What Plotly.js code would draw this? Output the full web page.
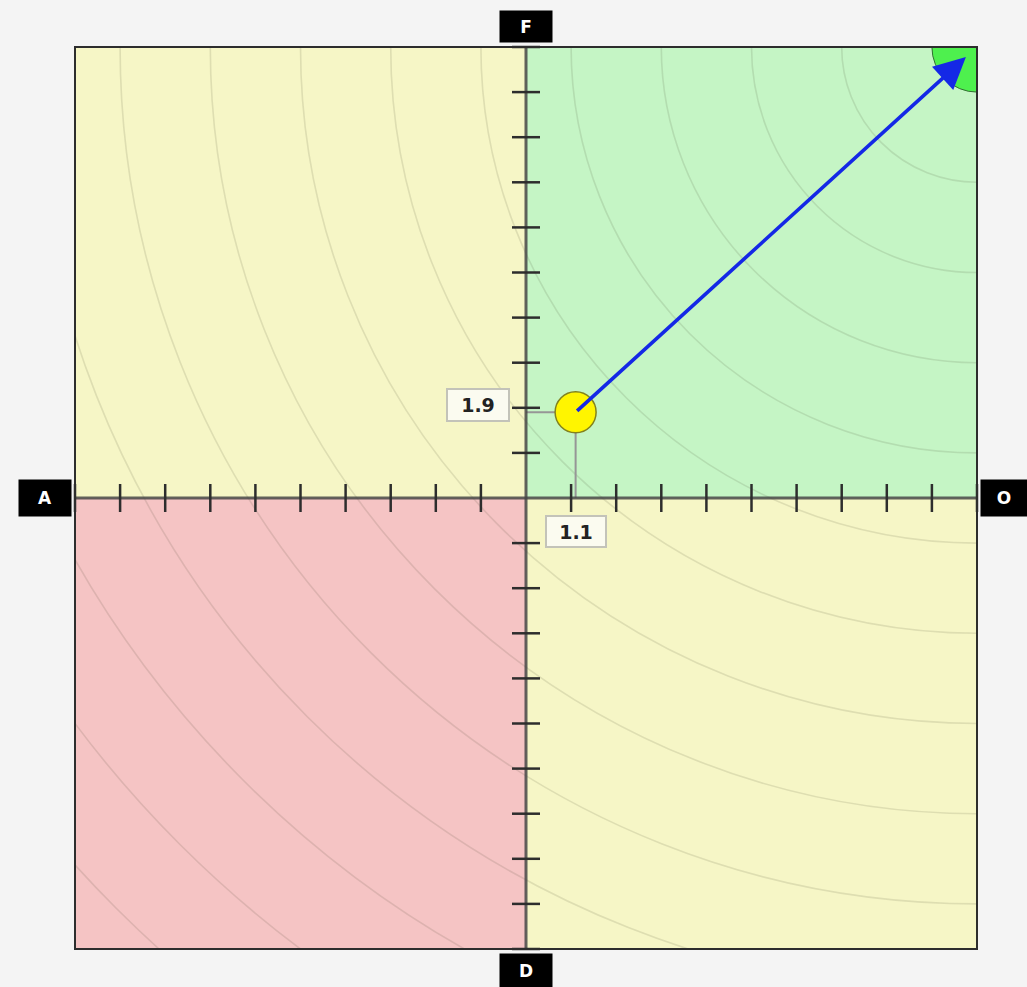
<!DOCTYPE html>
<html>
<head>
<meta charset="utf-8">
<script src="https://cdn.plot.ly/plotly-3.0.1.min.js"></script>
<style>html,body{margin:0;padding:0;background:#f4f4f4;}#chart{width:1027px;height:987px;}</style>
</head>
<body>
<div id="chart"></div>
<script>
// ---- data ----
const axisRange = [-10, 10];
const tickValues = [-10, -9, -8, -7, -6, -5, -4, -3, -2, -1, 1, 2, 3, 4, 5, 6, 7, 8, 9, 10];
const pointX = 1.1;
const pointY = 1.9;
const targetX = 10;
const targetY = 10;
const targetRadius = 1;
const ringRadii = [3, 5, 7, 9, 11, 13, 15, 17, 19, 21, 23, 25, 27, 29];
const axisLabels = { left: 'A', right: 'O', top: 'F', bottom: 'D' };
const quadrantColors = {
  topLeft: 'rgb(246,246,198)',
  topRight: 'rgb(197,245,197)',
  bottomLeft: 'rgb(245,196,196)',
  bottomRight: 'rgb(246,246,198)'
};

const shapes = [];
// quadrants
shapes.push({type:'rect', xref:'x', yref:'y', x0:axisRange[0], x1:0, y0:0, y1:axisRange[1], fillcolor:quadrantColors.topLeft, line:{width:0}, layer:'below'});
shapes.push({type:'rect', xref:'x', yref:'y', x0:0, x1:axisRange[1], y0:0, y1:axisRange[1], fillcolor:quadrantColors.topRight, line:{width:0}, layer:'below'});
shapes.push({type:'rect', xref:'x', yref:'y', x0:axisRange[0], x1:0, y0:axisRange[0], y1:0, fillcolor:quadrantColors.bottomLeft, line:{width:0}, layer:'below'});
shapes.push({type:'rect', xref:'x', yref:'y', x0:0, x1:axisRange[1], y0:axisRange[0], y1:0, fillcolor:quadrantColors.bottomRight, line:{width:0}, layer:'below'});
// rings around target
ringRadii.forEach(r => {
  shapes.push({type:'circle', xref:'x', yref:'y', x0:targetX - r, x1:targetX + r, y0:targetY - r, y1:targetY + r,
    line:{color:'rgba(60,60,40,0.13)', width:1.6}, fillcolor:'rgba(0,0,0,0)', layer:'below'});
});
// target disc
shapes.push({type:'circle', xref:'x', yref:'y', x0:targetX - targetRadius, x1:targetX + targetRadius, y0:targetY - targetRadius, y1:targetY + targetRadius,
  line:{color:'rgb(50,110,50)', width:1}, fillcolor:'rgb(78,240,78)', layer:'below'});
// frame
shapes.push({type:'rect', xref:'paper', yref:'paper', x0:0, x1:1, y0:0, y1:1, line:{color:'rgb(45,45,45)', width:2}, fillcolor:'rgba(0,0,0,0)', layer:'above'});

const traces = [];
// guide lines
traces.push({x:[0, pointX, pointX], y:[pointY, pointY, 0], mode:'lines', line:{color:'rgb(150,150,150)', width:2}, hoverinfo:'skip', showlegend:false});
// axis lines
traces.push({x:axisRange, y:[0,0], mode:'lines', line:{color:'rgba(70,70,70,0.85)', width:3}, hoverinfo:'skip', showlegend:false});
traces.push({x:[0,0], y:axisRange, mode:'lines', line:{color:'rgba(70,70,70,0.85)', width:3}, hoverinfo:'skip', showlegend:false});
// ticks
traces.push({x:tickValues, y:tickValues.map(() => 0), mode:'markers', marker:{symbol:'line-ns', size:20, line:{color:'rgb(45,45,45)', width:2.5}}, hoverinfo:'skip', showlegend:false, cliponaxis:false});
traces.push({x:tickValues.map(() => 0), y:tickValues, mode:'markers', marker:{symbol:'line-ew', size:20, line:{color:'rgb(45,45,45)', width:2.5}}, hoverinfo:'skip', showlegend:false, cliponaxis:false});
// point
traces.push({x:[pointX], y:[pointY], mode:'markers', marker:{size:41, color:'rgb(255,245,0)', line:{color:'rgb(130,130,30)', width:1.5}}, hoverinfo:'skip', showlegend:false});

const labelFont = {family:'DejaVu Sans', size:17, color:'#ffffff', weight:'bold'};
const numFont = {family:'DejaVu Sans', size:19, color:'#222', weight:'bold'};
const annotations = [
  // arrow
  {x:targetX, y:targetY, xref:'x', yref:'y', ax:pointX, ay:pointY, axref:'x', ayref:'y', text:'', showarrow:true,
   arrowhead:2, arrowsize:1.75, arrowwidth:3.6, arrowcolor:'rgb(20,40,230)', standoff:15, startstandoff:0},
  // value labels
  {x:0, y:pointY, xref:'x', yref:'y', text:String(pointY), showarrow:false, xshift:-48, yshift:7,
   bgcolor:'rgb(251,251,240)', bordercolor:'rgb(195,195,185)', borderwidth:2, borderpad:2, width:56, height:26, font:numFont},
  {x:pointX, y:0, xref:'x', yref:'y', text:String(pointX), showarrow:false, yshift:-33,
   bgcolor:'rgb(251,251,240)', bordercolor:'rgb(195,195,185)', borderwidth:2, borderpad:2, width:54, height:25, font:numFont},
  // axis end labels
  {x:0, y:0.5, xref:'paper', yref:'paper', xanchor:'right', yanchor:'middle', xshift:-3, text:axisLabels.left, showarrow:false,
   bgcolor:'#000', borderpad:1, width:50, height:34, font:labelFont},
  {x:1, y:0.5, xref:'paper', yref:'paper', xanchor:'left', yanchor:'middle', xshift:3, text:axisLabels.right, showarrow:false,
   bgcolor:'#000', borderpad:1, width:44, height:34, font:labelFont},
  {x:0.5, y:1, xref:'paper', yref:'paper', xanchor:'center', yanchor:'bottom', yshift:4, text:axisLabels.top, showarrow:false,
   bgcolor:'#000', borderpad:1, width:50, height:29, font:labelFont},
  {x:0.5, y:0, xref:'paper', yref:'paper', xanchor:'center', yanchor:'top', yshift:-4, text:axisLabels.bottom, showarrow:false,
   bgcolor:'#000', borderpad:1, width:50, height:32, font:labelFont}
];

const layout = {
  width:1027, height:987,
  margin:{l:75, r:50, t:47, b:38},
  paper_bgcolor:'#f4f4f4',
  plot_bgcolor:'rgba(0,0,0,0)',
  showlegend:false,
  xaxis:{range:axisRange, showgrid:false, zeroline:false, showticklabels:false, ticks:'', showline:false, fixedrange:true},
  yaxis:{range:axisRange, showgrid:false, zeroline:false, showticklabels:false, ticks:'', showline:false, fixedrange:true},
  shapes:shapes,
  annotations:annotations
};

Plotly.newPlot('chart', traces, layout, {displayModeBar:false, staticPlot:true});
</script>
</body>
</html>
